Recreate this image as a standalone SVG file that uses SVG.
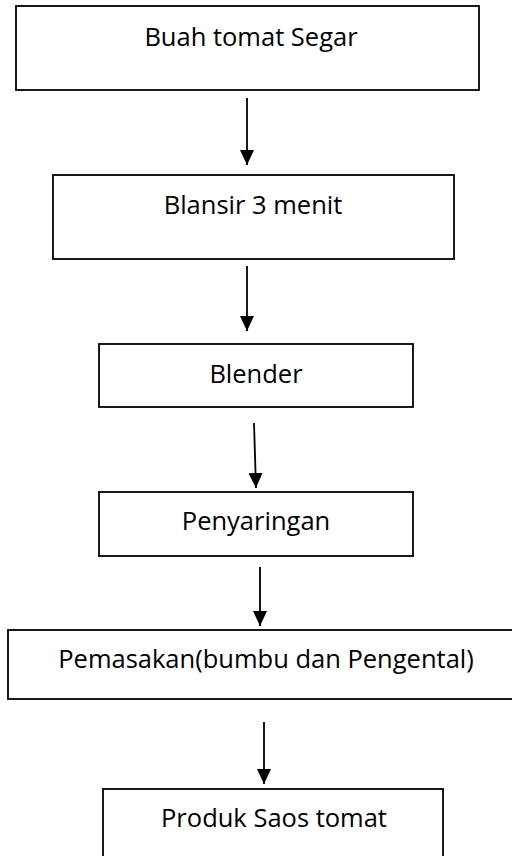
<svg xmlns="http://www.w3.org/2000/svg" width="512" height="856" viewBox="0 0 512 856">
<style>
.box{fill:#fff;stroke:#000;stroke-width:1.8}
.lbl{font-family:"Open Sans","Noto Sans",sans-serif;font-size:25.5px;fill:#000;text-anchor:middle}
.con{stroke:#000;stroke-width:1.8;fill:none;marker-end:url(#ah)}
</style>
<defs>
<marker id="ah" markerUnits="userSpaceOnUse" markerWidth="16" markerHeight="14" refX="15" refY="7" orient="auto">
<path d="M0,0 L15,7 L0,14 Z" fill="#000"/>
</marker>
</defs>
<rect width="512" height="856" fill="#fff"/>
<g id="n1"><rect class="box" x="16" y="6" width="463" height="84"/><text class="lbl" x="251" y="46">Buah tomat Segar</text></g>
<g id="n2"><rect class="box" x="53" y="175" width="401" height="84"/><text class="lbl" x="253" y="214">Blansir 3 menit</text></g>
<g id="n3"><rect class="box" x="99" y="344" width="314" height="63"/><text class="lbl" x="256" y="383">Blender</text></g>
<g id="n4"><rect class="box" x="99" y="492" width="314" height="64"/><text class="lbl" x="256" y="530">Penyaringan</text></g>
<g id="n5"><rect class="box" x="8" y="630" width="510" height="69"/><text class="lbl" x="266" y="668">Pemasakan(bumbu dan Pengental)</text></g>
<g id="n6"><rect class="box" x="103" y="789" width="340" height="80"/><text class="lbl" x="274" y="827">Produk Saos tomat</text></g>
<g id="connectors">
<line class="con" x1="247" y1="98" x2="247" y2="165"/>
<line class="con" x1="247" y1="266" x2="247" y2="331"/>
<line class="con" x1="254" y1="423" x2="256" y2="488"/>
<line class="con" x1="260" y1="567" x2="260" y2="626"/>
<line class="con" x1="264" y1="722" x2="264" y2="784"/>
</g>
</svg>
